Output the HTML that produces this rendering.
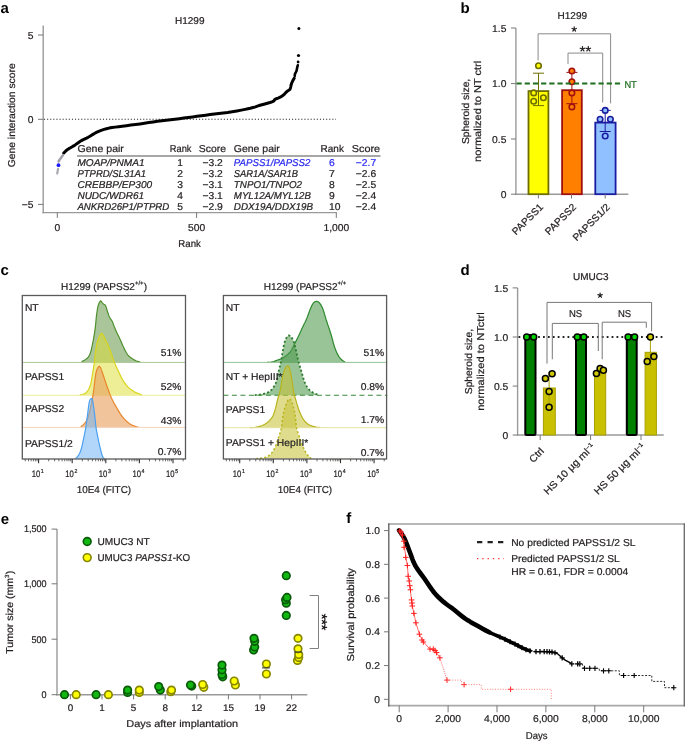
<!DOCTYPE html>
<html><head><meta charset="utf-8"><style>
html,body{margin:0;padding:0;background:#fff;}
body{width:685px;height:741px;overflow:hidden;}
svg{display:block;font-family:"Liberation Sans", sans-serif;text-rendering:geometricPrecision;will-change:transform;}
svg{fill:#231f20;}
</style></head><body>
<svg width="685" height="741" viewBox="0 0 685 741">
<text transform="translate(0.5,12.6)" font-size="15" fill="#000" font-weight="bold">a</text>
<text transform="translate(460.5,12.8)" font-size="15" fill="#000" font-weight="bold">b</text>
<text transform="translate(0.5,275)" font-size="15" fill="#000" font-weight="bold">c</text>
<text transform="translate(460.5,275.1)" font-size="15" fill="#000" font-weight="bold">d</text>
<text transform="translate(0.8,523.6)" font-size="15" fill="#000" font-weight="bold">e</text>
<text transform="translate(346.2,523)" font-size="15" fill="#000" font-weight="bold">f</text>
<text transform="translate(189.7,24) scale(1.03,1)" font-size="10.0" text-anchor="middle" stroke="#231f20" stroke-width="0.22" textLength="28.64" lengthAdjust="spacingAndGlyphs">H1299</text>
<line x1="43.2" y1="25.4" x2="43.2" y2="213.2" stroke="#9a9a9a" stroke-width="1.4" />
<line x1="42.5" y1="212.6" x2="336.8" y2="212.6" stroke="#9a9a9a" stroke-width="1.4" />
<line x1="38" y1="35" x2="43.2" y2="35" stroke="#777" stroke-width="1" />
<text transform="translate(33.6,38.6) scale(1.03,1)" font-size="10.0" text-anchor="end" stroke="#231f20" stroke-width="0.22">5</text>
<line x1="38" y1="119.3" x2="43.2" y2="119.3" stroke="#777" stroke-width="1" />
<text transform="translate(33.6,122.89999999999999) scale(1.03,1)" font-size="10.0" text-anchor="end" stroke="#231f20" stroke-width="0.22">0</text>
<line x1="38" y1="204.4" x2="43.2" y2="204.4" stroke="#777" stroke-width="1" />
<text transform="translate(33.6,208.0) scale(1.03,1)" font-size="10.0" text-anchor="end" stroke="#231f20" stroke-width="0.22">−5</text>
<line x1="57.3" y1="212.6" x2="57.3" y2="217.9" stroke="#777" stroke-width="1" />
<text transform="translate(57.3,231) scale(1.03,1)" font-size="10.0" text-anchor="middle" stroke="#231f20" stroke-width="0.22">0</text>
<line x1="196.6" y1="212.6" x2="196.6" y2="217.9" stroke="#777" stroke-width="1" />
<text transform="translate(196.6,231) scale(1.03,1)" font-size="10.0" text-anchor="middle" stroke="#231f20" stroke-width="0.22">500</text>
<line x1="336.3" y1="212.6" x2="336.3" y2="217.9" stroke="#777" stroke-width="1" />
<text transform="translate(336.3,231) scale(1.03,1)" font-size="10.0" text-anchor="middle" stroke="#231f20" stroke-width="0.22">1,000</text>
<text transform="translate(189.6,246.9) scale(1.03,1)" font-size="10.0" text-anchor="middle" stroke="#231f20" stroke-width="0.22" textLength="21.84" lengthAdjust="spacingAndGlyphs">Rank</text>
<text transform="translate(14.8,115.3) rotate(-90) scale(1.03,1)" font-size="10.0" text-anchor="middle" stroke="#231f20" stroke-width="0.22" textLength="100.97" lengthAdjust="spacingAndGlyphs">Gene interaction score</text>
<line x1="44" y1="119.3" x2="336" y2="119.3" stroke="#222" stroke-width="1.1" stroke-dasharray="1.1 2"/>
<polyline points="63.80,153.10 64.32,152.52 65.04,151.69 65.97,150.74 67.10,149.80 68.47,148.90 70.06,147.97 71.80,146.99 73.60,145.90 75.51,144.63 77.54,143.21 79.58,141.82 81.50,140.60 83.27,139.63 84.96,138.82 86.57,138.07 88.10,137.30 89.49,136.50 90.76,135.70 92.02,134.90 93.40,134.10 94.88,133.27 96.41,132.42 98.06,131.59 99.90,130.80 101.92,130.06 104.08,129.36 106.46,128.70 109.10,128.10 112.01,127.58 115.17,127.12 118.59,126.68 122.30,126.20 126.41,125.66 130.88,125.09 135.48,124.51 140.00,123.90 144.39,123.26 148.76,122.59 153.13,121.92 157.50,121.30 161.87,120.74 166.24,120.23 170.62,119.73 175.00,119.20 179.40,118.64 183.80,118.06 188.20,117.48 192.60,116.90 196.98,116.32 201.36,115.74 205.73,115.16 210.10,114.60 214.47,114.08 218.85,113.60 223.22,113.09 227.60,112.50 232.18,111.77 236.89,110.95 241.34,110.13 245.10,109.40 247.97,108.80 250.21,108.28 252.09,107.79 253.90,107.30 255.46,106.83 256.71,106.40 258.08,105.92 260.00,105.30 262.93,104.46 266.53,103.47 270.01,102.47 272.60,101.60 273.88,100.91 274.33,100.32 274.52,99.79 275.00,99.30 275.91,98.87 276.95,98.51 278.04,98.14 279.10,97.70 280.10,97.20 281.10,96.66 282.10,96.04 283.10,95.30 284.15,94.35 285.23,93.22 286.26,92.12 287.20,91.20 288.03,90.61 288.78,90.23 289.44,89.83 290.00,89.20 290.41,88.22 290.70,87.02 290.94,85.79 291.20,84.70 291.49,83.81 291.76,83.03 292.06,82.28 292.40,81.50 292.85,80.60 293.38,79.65 293.86,78.80 294.20,78.20" fill="none" stroke="#000" stroke-width="3.0" stroke-linecap="round" stroke-linejoin="round"/>
<polyline points="294.70,76.00 294.90,74.20 296.50,71.00 297.30,66.90 297.80,65.30" fill="none" stroke="#000" stroke-width="2.6" stroke-linecap="round" stroke-linejoin="round"/>
<circle cx="298.1" cy="62" r="1.4" fill="#000" stroke="none" stroke-width="0"/>
<circle cx="298.5" cy="55.5" r="1.6" fill="#000" stroke="none" stroke-width="0"/>
<circle cx="298.9" cy="28.6" r="1.5" fill="#000" stroke="none" stroke-width="0"/>
<polyline points="63.10,155.10 60.50,158.50 58.50,161.50" fill="none" stroke="#a0a0a8" stroke-width="2.4" stroke-linecap="round"/>
<polyline points="58.10,168.90 57.20,173.50" fill="none" stroke="#a8a8b0" stroke-width="2.2" stroke-linecap="round"/>
<circle cx="58.5" cy="165.2" r="1.9" fill="#1a1aff" stroke="none" stroke-width="0"/>
<line x1="77" y1="156" x2="380.5" y2="156" stroke="#8a8a8a" stroke-width="1.6" />
<text transform="translate(77.4,152.4) scale(1.03,1)" font-size="10.0" stroke="#231f20" stroke-width="0.22" textLength="45.15" lengthAdjust="spacingAndGlyphs">Gene pair</text>
<text transform="translate(169.8,152.4) scale(1.03,1)" font-size="10.0" stroke="#231f20" stroke-width="0.22" textLength="21.07" lengthAdjust="spacingAndGlyphs">Rank</text>
<text transform="translate(198.8,152.4) scale(1.03,1)" font-size="10.0" stroke="#231f20" stroke-width="0.22" textLength="26.50" lengthAdjust="spacingAndGlyphs">Score</text>
<text transform="translate(233.8,152.4) scale(1.03,1)" font-size="10.0" stroke="#231f20" stroke-width="0.22" textLength="44.66" lengthAdjust="spacingAndGlyphs">Gene pair</text>
<text transform="translate(320.6,152.4) scale(1.03,1)" font-size="10.0" stroke="#231f20" stroke-width="0.22" textLength="22.62" lengthAdjust="spacingAndGlyphs">Rank</text>
<text transform="translate(351.8,152.4) scale(1.03,1)" font-size="10.0" stroke="#231f20" stroke-width="0.22" textLength="27.48" lengthAdjust="spacingAndGlyphs">Score</text>
<text transform="translate(77.4,165.6) scale(1.03,1)" font-size="10.0" stroke="#231f20" stroke-width="0.22" font-style="italic" textLength="65.24" lengthAdjust="spacingAndGlyphs">MOAP/PNMA1</text>
<text transform="translate(180.2,165.6) scale(1.03,1)" font-size="10.0" text-anchor="middle" stroke="#231f20" stroke-width="0.22">1</text>
<text transform="translate(222.8,165.6) scale(1.03,1)" font-size="10.0" text-anchor="end" stroke="#231f20" stroke-width="0.22">−3.2</text>
<text transform="translate(233.8,165.6) scale(1.03,1)" font-size="10.0" fill="#2b2bf0" stroke="#2b2bf0" stroke-width="0.22" font-style="italic" textLength="74.37" lengthAdjust="spacingAndGlyphs">PAPSS1/PAPSS2</text>
<text transform="translate(329,165.6) scale(1.03,1)" font-size="10.0" fill="#2b2bf0" stroke="#2b2bf0" stroke-width="0.22">6</text>
<text transform="translate(376.2,165.6) scale(1.03,1)" font-size="10.0" text-anchor="end" fill="#2b2bf0" stroke="#2b2bf0" stroke-width="0.22">−2.7</text>
<text transform="translate(77.4,176.65) scale(1.03,1)" font-size="10.0" stroke="#231f20" stroke-width="0.22" font-style="italic" textLength="66.70" lengthAdjust="spacingAndGlyphs">PTPRD/SL31A1</text>
<text transform="translate(180.2,176.65) scale(1.03,1)" font-size="10.0" text-anchor="middle" stroke="#231f20" stroke-width="0.22">2</text>
<text transform="translate(222.8,176.65) scale(1.03,1)" font-size="10.0" text-anchor="end" stroke="#231f20" stroke-width="0.22">−3.2</text>
<text transform="translate(233.8,176.65) scale(1.03,1)" font-size="10.0" stroke="#231f20" stroke-width="0.22" font-style="italic" textLength="62.33" lengthAdjust="spacingAndGlyphs">SAR1A/SAR1B</text>
<text transform="translate(329,176.65) scale(1.03,1)" font-size="10.0" stroke="#231f20" stroke-width="0.22">7</text>
<text transform="translate(376.2,176.65) scale(1.03,1)" font-size="10.0" text-anchor="end" stroke="#231f20" stroke-width="0.22">−2.6</text>
<text transform="translate(77.4,187.7) scale(1.03,1)" font-size="10.0" stroke="#231f20" stroke-width="0.22" font-style="italic" textLength="72.62" lengthAdjust="spacingAndGlyphs">CREBBP/EP300</text>
<text transform="translate(180.2,187.7) scale(1.03,1)" font-size="10.0" text-anchor="middle" stroke="#231f20" stroke-width="0.22">3</text>
<text transform="translate(222.8,187.7) scale(1.03,1)" font-size="10.0" text-anchor="end" stroke="#231f20" stroke-width="0.22">−3.1</text>
<text transform="translate(233.8,187.7) scale(1.03,1)" font-size="10.0" stroke="#231f20" stroke-width="0.22" font-style="italic" textLength="66.31" lengthAdjust="spacingAndGlyphs">TNPO1/TNPO2</text>
<text transform="translate(329,187.7) scale(1.03,1)" font-size="10.0" stroke="#231f20" stroke-width="0.22">8</text>
<text transform="translate(376.2,187.7) scale(1.03,1)" font-size="10.0" text-anchor="end" stroke="#231f20" stroke-width="0.22">−2.5</text>
<text transform="translate(77.4,198.75) scale(1.03,1)" font-size="10.0" stroke="#231f20" stroke-width="0.22" font-style="italic" textLength="64.85" lengthAdjust="spacingAndGlyphs">NUDC/WDR61</text>
<text transform="translate(180.2,198.75) scale(1.03,1)" font-size="10.0" text-anchor="middle" stroke="#231f20" stroke-width="0.22">4</text>
<text transform="translate(222.8,198.75) scale(1.03,1)" font-size="10.0" text-anchor="end" stroke="#231f20" stroke-width="0.22">−3.1</text>
<text transform="translate(233.8,198.75) scale(1.03,1)" font-size="10.0" stroke="#231f20" stroke-width="0.22" font-style="italic" textLength="74.85" lengthAdjust="spacingAndGlyphs">MYL12A/MYL12B</text>
<text transform="translate(329,198.75) scale(1.03,1)" font-size="10.0" stroke="#231f20" stroke-width="0.22">9</text>
<text transform="translate(376.2,198.75) scale(1.03,1)" font-size="10.0" text-anchor="end" stroke="#231f20" stroke-width="0.22">−2.4</text>
<text transform="translate(77.4,209.8) scale(1.03,1)" font-size="10.0" stroke="#231f20" stroke-width="0.22" font-style="italic" textLength="89.22" lengthAdjust="spacingAndGlyphs">ANKRD26P1/PTPRD</text>
<text transform="translate(180.2,209.8) scale(1.03,1)" font-size="10.0" text-anchor="middle" stroke="#231f20" stroke-width="0.22">5</text>
<text transform="translate(222.8,209.8) scale(1.03,1)" font-size="10.0" text-anchor="end" stroke="#231f20" stroke-width="0.22">−2.9</text>
<text transform="translate(233.8,209.8) scale(1.03,1)" font-size="10.0" stroke="#231f20" stroke-width="0.22" font-style="italic" textLength="76.99" lengthAdjust="spacingAndGlyphs">DDX19A/DDX19B</text>
<text transform="translate(329,209.8) scale(1.03,1)" font-size="10.0" stroke="#231f20" stroke-width="0.22">10</text>
<text transform="translate(376.2,209.8) scale(1.03,1)" font-size="10.0" text-anchor="end" stroke="#231f20" stroke-width="0.22">−2.4</text>
<text transform="translate(572.3,18.7) scale(1.03,1)" font-size="10.0" text-anchor="middle" stroke="#231f20" stroke-width="0.22" textLength="28.64" lengthAdjust="spacingAndGlyphs">H1299</text>
<line x1="515.9" y1="28" x2="515.9" y2="194.9" stroke="#9a9a9a" stroke-width="1.4" />
<line x1="515.2" y1="194.2" x2="628.3" y2="194.2" stroke="#9a9a9a" stroke-width="1.4" />
<line x1="511" y1="28" x2="515.9" y2="28" stroke="#777" stroke-width="1" />
<text transform="translate(506.4,31.6) scale(1.03,1)" font-size="10.0" text-anchor="end" stroke="#231f20" stroke-width="0.22">1.5</text>
<line x1="511" y1="83.6" x2="515.9" y2="83.6" stroke="#777" stroke-width="1" />
<text transform="translate(506.4,87.19999999999999) scale(1.03,1)" font-size="10.0" text-anchor="end" stroke="#231f20" stroke-width="0.22">1.0</text>
<line x1="511" y1="139" x2="515.9" y2="139" stroke="#777" stroke-width="1" />
<text transform="translate(506.4,142.6) scale(1.03,1)" font-size="10.0" text-anchor="end" stroke="#231f20" stroke-width="0.22">0.5</text>
<line x1="511" y1="194.2" x2="515.9" y2="194.2" stroke="#777" stroke-width="1" />
<text transform="translate(506.4,197.79999999999998) scale(1.03,1)" font-size="10.0" text-anchor="end" stroke="#231f20" stroke-width="0.22">0</text>
<text transform="translate(469,111.4) rotate(-90) scale(1.03,1)" font-size="10.0" text-anchor="middle" stroke="#231f20" stroke-width="0.22">Spheroid size,</text>
<text transform="translate(481.4,111.4) rotate(-90) scale(1.03,1)" font-size="10.0" text-anchor="middle" stroke="#231f20" stroke-width="0.22" textLength="98.06" lengthAdjust="spacingAndGlyphs">normalized to NT ctrl</text>
<rect x="528.5" y="91.10000000000001" width="19.89999999999993" height="103.09999999999998" fill="#ffff00" stroke="#6e6e00" stroke-width="1.8"/>
<rect x="562.1" y="90.2" width="19.7" height="103.99999999999999" fill="#ff8000" stroke="#a01010" stroke-width="1.8"/>
<rect x="595.3" y="122.60000000000001" width="20.300000000000022" height="71.59999999999998" fill="#90c0ff" stroke="#1c1ca0" stroke-width="1.8"/>
<line x1="538.5" y1="73.2" x2="538.5" y2="105.6" stroke="#6e6e00" stroke-width="1" />
<line x1="533.0" y1="73.2" x2="544.0" y2="73.2" stroke="#6e6e00" stroke-width="1" />
<line x1="533.0" y1="105.6" x2="544.0" y2="105.6" stroke="#6e6e00" stroke-width="1" />
<line x1="571.9" y1="72.4" x2="571.9" y2="103.7" stroke="#a01010" stroke-width="1" />
<line x1="566.4" y1="72.4" x2="577.4" y2="72.4" stroke="#a01010" stroke-width="1" />
<line x1="566.4" y1="103.7" x2="577.4" y2="103.7" stroke="#a01010" stroke-width="1" />
<line x1="605.2" y1="110.4" x2="605.2" y2="131.5" stroke="#1c1ca0" stroke-width="1" />
<line x1="599.7" y1="110.4" x2="610.7" y2="110.4" stroke="#1c1ca0" stroke-width="1" />
<line x1="599.7" y1="131.5" x2="610.7" y2="131.5" stroke="#1c1ca0" stroke-width="1" />
<circle cx="538.5" cy="65.7" r="2.75" fill="#ffff00" stroke="#6e6e00" stroke-width="1.6"/>
<circle cx="533.7" cy="92.9" r="2.75" fill="#ffff00" stroke="#6e6e00" stroke-width="1.6"/>
<circle cx="543.4" cy="97.8" r="2.75" fill="#ffff00" stroke="#6e6e00" stroke-width="1.6"/>
<circle cx="533.7" cy="101.3" r="2.75" fill="#ffff00" stroke="#6e6e00" stroke-width="1.6"/>
<circle cx="571.9" cy="71" r="2.75" fill="#ff8000" stroke="#a01010" stroke-width="1.6"/>
<circle cx="571.9" cy="81.8" r="2.75" fill="#ff8000" stroke="#a01010" stroke-width="1.6"/>
<circle cx="571.9" cy="92.9" r="2.75" fill="#ff8000" stroke="#a01010" stroke-width="1.6"/>
<circle cx="571.9" cy="106.9" r="2.75" fill="#ff8000" stroke="#a01010" stroke-width="1.6"/>
<circle cx="605.2" cy="110.4" r="2.75" fill="#90c0ff" stroke="#1c1ca0" stroke-width="1.6"/>
<circle cx="600.1" cy="119.2" r="2.75" fill="#90c0ff" stroke="#1c1ca0" stroke-width="1.6"/>
<circle cx="610.4" cy="119.2" r="2.75" fill="#90c0ff" stroke="#1c1ca0" stroke-width="1.6"/>
<circle cx="605.2" cy="136" r="2.75" fill="#90c0ff" stroke="#1c1ca0" stroke-width="1.6"/>
<polyline points="538.10,60.40 538.10,33.80 610.60,33.80 610.60,103.40" fill="none" stroke="#8a8a8a" stroke-width="1" />
<polyline points="568.00,64.00 568.00,53.10 602.70,53.10 602.70,102.50" fill="none" stroke="#8a8a8a" stroke-width="1" />
<path d="M574.20,29.20L574.20,26.90M574.20,29.20L576.39,28.49M574.20,29.20L575.55,31.06M574.20,29.20L572.85,31.06M574.20,29.20L572.01,28.49" stroke="#231f20" stroke-width="1.2" stroke-linecap="round" fill="none"/>
<path d="M582.50,49.00L582.50,46.60M582.50,49.00L584.78,48.26M582.50,49.00L583.91,50.94M582.50,49.00L581.09,50.94M582.50,49.00L580.22,48.26" stroke="#231f20" stroke-width="1.25" stroke-linecap="round" fill="none"/>
<path d="M588.30,49.00L588.30,46.60M588.30,49.00L590.58,48.26M588.30,49.00L589.71,50.94M588.30,49.00L586.89,50.94M588.30,49.00L586.02,48.26" stroke="#231f20" stroke-width="1.25" stroke-linecap="round" fill="none"/>
<line x1="516.5" y1="83.6" x2="620.6" y2="83.6" stroke="#1e6e1e" stroke-width="2" stroke-dasharray="5.2 3"/>
<text transform="translate(624.4,87.6) scale(1.03,1)" font-size="10.0" fill="#1e6e1e" stroke="#1e6e1e" stroke-width="0.22" textLength="12.04" lengthAdjust="spacingAndGlyphs">NT</text>
<line x1="538.4" y1="194.2" x2="538.4" y2="198.5" stroke="#777" stroke-width="1" />
<text transform="translate(543.8,207.7) rotate(-45) scale(1.03,1)" font-size="10.0" text-anchor="end" stroke="#231f20" stroke-width="0.22">PAPSS1</text>
<line x1="571.5" y1="194.2" x2="571.5" y2="198.5" stroke="#777" stroke-width="1" />
<text transform="translate(576.9,207.7) rotate(-45) scale(1.03,1)" font-size="10.0" text-anchor="end" stroke="#231f20" stroke-width="0.22">PAPSS2</text>
<line x1="605.2" y1="194.2" x2="605.2" y2="198.5" stroke="#777" stroke-width="1" />
<text transform="translate(610.6,207.7) rotate(-45) scale(1.03,1)" font-size="10.0" text-anchor="end" stroke="#231f20" stroke-width="0.22">PAPSS1/2</text>
<defs><clipPath id="cL"><rect x="22.3" y="295.5" width="163.2" height="163.5"/></clipPath><clipPath id="cR"><rect x="223.4" y="295.5" width="164" height="163.5"/></clipPath></defs>
<g clip-path="url(#cL)">
<path d="M22.3,362.4 L22.30,362.40 L37.99,362.44 L59.64,362.47 L76.00,362.40 L81.60,362.22 L81.90,361.93 L82.10,361.40 L83.95,360.60 L85.69,359.56 L87.20,358.30 L88.42,356.86 L89.42,355.20 L90.30,353.20 L91.06,350.69 L91.70,347.84 L92.30,345.00 L92.87,342.37 L93.39,339.75 L93.90,336.90 L94.43,333.66 L94.94,330.19 L95.40,326.70 L95.75,323.27 L96.04,319.83 L96.40,316.40 L96.87,312.79 L97.41,309.18 L98.00,306.20 L98.67,304.10 L99.39,302.62 L100.00,301.60 L100.37,301.01 L100.62,300.89 L101.00,301.10 L101.60,301.76 L102.33,302.76 L103.10,303.70 L103.92,304.24 L104.78,304.71 L105.60,305.70 L106.33,307.61 L107.02,310.03 L107.70,312.30 L108.35,314.18 L108.99,315.91 L109.70,317.50 L110.54,318.88 L111.46,320.12 L112.30,321.50 L112.99,323.11 L113.61,324.86 L114.30,326.70 L115.11,328.67 L115.98,330.73 L116.90,332.80 L117.87,334.79 L118.88,336.79 L119.90,338.90 L120.93,341.26 L121.96,343.74 L123.00,346.10 L124.04,348.29 L125.07,350.36 L126.10,352.20 L127.03,353.73 L127.95,355.04 L129.10,356.30 L130.64,357.60 L132.41,358.84 L134.20,359.90 L135.87,360.74 L137.56,361.40 L139.40,361.90 L140.28,362.20 L141.31,362.33 L146.00,362.40 L158.19,362.44 L174.04,362.42 L185.50,362.40 L185.5,362.4 Z" fill="#5c8f3e" stroke="none" stroke-width="0" fill-opacity="0.52"/>
<path d="M81.60,362.22 L81.90,361.93 L82.10,361.40 L83.95,360.60 L85.69,359.56 L87.20,358.30 L88.42,356.86 L89.42,355.20 L90.30,353.20 L91.06,350.69 L91.70,347.84 L92.30,345.00 L92.87,342.37 L93.39,339.75 L93.90,336.90 L94.43,333.66 L94.94,330.19 L95.40,326.70 L95.75,323.27 L96.04,319.83 L96.40,316.40 L96.87,312.79 L97.41,309.18 L98.00,306.20 L98.67,304.10 L99.39,302.62 L100.00,301.60 L100.37,301.01 L100.62,300.89 L101.00,301.10 L101.60,301.76 L102.33,302.76 L103.10,303.70 L103.92,304.24 L104.78,304.71 L105.60,305.70 L106.33,307.61 L107.02,310.03 L107.70,312.30 L108.35,314.18 L108.99,315.91 L109.70,317.50 L110.54,318.88 L111.46,320.12 L112.30,321.50 L112.99,323.11 L113.61,324.86 L114.30,326.70 L115.11,328.67 L115.98,330.73 L116.90,332.80 L117.87,334.79 L118.88,336.79 L119.90,338.90 L120.93,341.26 L121.96,343.74 L123.00,346.10 L124.04,348.29 L125.07,350.36 L126.10,352.20 L127.03,353.73 L127.95,355.04 L129.10,356.30 L130.64,357.60 L132.41,358.84 L134.20,359.90 L135.87,360.74 L137.56,361.40 L139.40,361.90 L140.28,362.20" fill="none" stroke="#4e8f2e" stroke-width="1.2" stroke-linejoin="round"/>
<line x1="22.3" y1="362.4" x2="185.5" y2="362.4" stroke="#a9c79a" stroke-width="1.0" />
<path d="M22.3,395.3 L22.30,395.30 L38.06,395.31 L59.79,395.33 L76.00,395.30 L80.97,395.26 L80.42,395.18 L80.10,394.90 L82.06,394.49 L84.24,393.87 L86.20,392.70 L87.79,390.78 L89.16,388.31 L90.30,385.50 L91.12,382.43 L91.70,379.03 L92.30,375.30 L93.01,371.15 L93.74,366.67 L94.40,362.20 L94.92,357.69 L95.38,353.17 L95.90,349.10 L96.50,345.68 L97.17,342.71 L98.00,340.00 L99.04,337.09 L100.24,334.45 L101.50,333.30 L102.82,334.45 L104.21,337.09 L105.60,340.00 L106.95,342.71 L108.30,345.68 L109.70,349.10 L111.20,353.28 L112.75,357.91 L114.30,362.20 L115.85,365.86 L117.40,369.19 L118.90,372.30 L120.27,375.20 L121.58,377.88 L123.00,380.40 L124.59,382.81 L126.29,385.07 L128.10,387.10 L130.02,388.85 L132.05,390.36 L134.20,391.70 L136.61,392.91 L139.15,393.94 L141.40,394.70 L141.83,395.10 L141.98,395.23 L146.00,395.30 L158.04,395.34 L173.97,395.32 L185.50,395.30 L185.5,395.3 Z" fill="#dede30" stroke="none" stroke-width="0" fill-opacity="0.5"/>
<path d="M80.42,395.18 L80.10,394.90 L82.06,394.49 L84.24,393.87 L86.20,392.70 L87.79,390.78 L89.16,388.31 L90.30,385.50 L91.12,382.43 L91.70,379.03 L92.30,375.30 L93.01,371.15 L93.74,366.67 L94.40,362.20 L94.92,357.69 L95.38,353.17 L95.90,349.10 L96.50,345.68 L97.17,342.71 L98.00,340.00 L99.04,337.09 L100.24,334.45 L101.50,333.30 L102.82,334.45 L104.21,337.09 L105.60,340.00 L106.95,342.71 L108.30,345.68 L109.70,349.10 L111.20,353.28 L112.75,357.91 L114.30,362.20 L115.85,365.86 L117.40,369.19 L118.90,372.30 L120.27,375.20 L121.58,377.88 L123.00,380.40 L124.59,382.81 L126.29,385.07 L128.10,387.10 L130.02,388.85 L132.05,390.36 L134.20,391.70 L136.61,392.91 L139.15,393.94 L141.40,394.70 L141.83,395.10" fill="none" stroke="#d8d41c" stroke-width="1.2" stroke-linejoin="round"/>
<line x1="22.3" y1="395.3" x2="185.5" y2="395.3" stroke="#eeee98" stroke-width="1.0" />
<path d="M22.3,427.4 L22.30,427.40 L38.02,427.44 L59.71,427.47 L76.00,427.40 L81.30,427.29 L81.20,427.07 L81.10,426.40 L82.87,425.12 L84.65,423.38 L86.20,421.30 L87.40,418.94 L88.39,416.24 L89.30,413.10 L90.21,409.18 L91.06,404.82 L91.80,400.90 L92.40,398.02 L92.91,395.59 L93.40,392.70 L93.91,388.79 L94.40,384.42 L94.90,380.40 L95.34,376.94 L95.78,373.83 L96.40,371.20 L97.31,368.81 L98.41,366.89 L99.50,366.30 L100.50,367.56 L101.49,370.14 L102.60,373.30 L103.86,376.94 L105.22,381.16 L106.70,385.50 L108.33,390.00 L110.06,394.63 L111.80,398.80 L113.50,402.21 L115.20,405.16 L116.90,408.00 L118.53,410.84 L120.15,413.58 L122.00,416.20 L124.18,418.81 L126.58,421.30 L129.10,423.40 L131.73,424.99 L134.49,426.17 L137.30,427.00 L139.02,427.39 L140.80,427.41 L146.00,427.40 L158.35,427.43 L174.12,427.41 L185.50,427.40 L185.5,427.4 Z" fill="#e8a060" stroke="none" stroke-width="0" fill-opacity="0.62"/>
<path d="M81.30,427.29 L81.20,427.07 L81.10,426.40 L82.87,425.12 L84.65,423.38 L86.20,421.30 L87.40,418.94 L88.39,416.24 L89.30,413.10 L90.21,409.18 L91.06,404.82 L91.80,400.90 L92.40,398.02 L92.91,395.59 L93.40,392.70 L93.91,388.79 L94.40,384.42 L94.90,380.40 L95.34,376.94 L95.78,373.83 L96.40,371.20 L97.31,368.81 L98.41,366.89 L99.50,366.30 L100.50,367.56 L101.49,370.14 L102.60,373.30 L103.86,376.94 L105.22,381.16 L106.70,385.50 L108.33,390.00 L110.06,394.63 L111.80,398.80 L113.50,402.21 L115.20,405.16 L116.90,408.00 L118.53,410.84 L120.15,413.58 L122.00,416.20 L124.18,418.81 L126.58,421.30 L129.10,423.40 L131.73,424.99 L134.49,426.17 L137.30,427.00 L139.02,427.39" fill="none" stroke="#e8862a" stroke-width="1.2" stroke-linejoin="round"/>
<line x1="22.3" y1="427.4" x2="185.5" y2="427.4" stroke="#f6d4bc" stroke-width="1.0" />
<path d="M22.3,459 L22.30,459.00 L36.89,459.03 L56.99,459.05 L72.00,459.00 L76.70,458.92 L76.29,458.77 L75.80,458.30 L76.89,457.41 L77.88,456.20 L78.80,454.80 L79.64,453.23 L80.40,451.46 L81.10,449.50 L81.71,447.36 L82.25,445.02 L82.80,442.50 L83.41,439.64 L84.04,436.60 L84.60,433.80 L85.03,431.69 L85.39,429.81 L85.80,427.30 L86.33,423.66 L86.91,419.37 L87.50,415.00 L88.09,410.33 L88.68,405.57 L89.30,401.90 L89.98,399.88 L90.68,398.95 L91.30,398.60 L91.77,398.49 L92.16,398.96 L92.60,400.50 L93.14,403.48 L93.72,407.53 L94.30,412.00 L94.89,417.14 L95.47,422.71 L96.00,427.30 L96.42,430.04 L96.78,431.80 L97.20,433.80 L97.73,436.58 L98.31,439.60 L98.90,442.50 L99.50,445.18 L100.10,447.73 L100.70,450.10 L101.26,452.30 L101.81,454.32 L102.40,456.00 L103.06,457.29 L103.76,458.25 L104.50,458.90 L102.49,459.14 L100.52,459.08 L107.00,459.00 L130.44,459.01 L162.33,459.00 L185.50,459.00 L185.5,459 Z" fill="#72b4f4" stroke="none" stroke-width="0" fill-opacity="0.55"/>
<path d="M76.29,458.77 L75.80,458.30 L76.89,457.41 L77.88,456.20 L78.80,454.80 L79.64,453.23 L80.40,451.46 L81.10,449.50 L81.71,447.36 L82.25,445.02 L82.80,442.50 L83.41,439.64 L84.04,436.60 L84.60,433.80 L85.03,431.69 L85.39,429.81 L85.80,427.30 L86.33,423.66 L86.91,419.37 L87.50,415.00 L88.09,410.33 L88.68,405.57 L89.30,401.90 L89.98,399.88 L90.68,398.95 L91.30,398.60 L91.77,398.49 L92.16,398.96 L92.60,400.50 L93.14,403.48 L93.72,407.53 L94.30,412.00 L94.89,417.14 L95.47,422.71 L96.00,427.30 L96.42,430.04 L96.78,431.80 L97.20,433.80 L97.73,436.58 L98.31,439.60 L98.90,442.50 L99.50,445.18 L100.10,447.73 L100.70,450.10 L101.26,452.30 L101.81,454.32 L102.40,456.00 L103.06,457.29 L103.76,458.25 L104.50,458.90" fill="none" stroke="#4aa0f0" stroke-width="1.2" stroke-linejoin="round"/>
</g>
<g clip-path="url(#cR)">
<path d="M223.4,362.4 L223.40,362.40 L232.17,362.41 L244.44,362.43 L255.00,362.40 L261.90,362.35 L267.07,362.25 L271.10,362.00 L273.80,361.52 L275.35,360.88 L276.90,360.20 L278.78,359.63 L280.66,359.01 L282.70,358.00 L285.13,356.41 L287.73,354.43 L290.00,352.20 L291.68,349.73 L293.04,347.01 L294.40,344.20 L295.87,341.35 L297.33,338.41 L298.80,335.40 L300.32,332.15 L301.84,328.82 L303.20,325.90 L304.25,323.83 L305.14,322.17 L306.10,320.10 L307.27,317.10 L308.52,313.69 L309.70,310.60 L310.75,308.03 L311.73,305.79 L312.70,304.00 L313.65,302.73 L314.59,301.91 L315.60,301.50 L316.74,301.40 L317.97,301.70 L319.20,302.60 L320.43,304.17 L321.67,306.35 L322.90,309.10 L324.08,312.56 L325.24,316.60 L326.50,320.80 L327.93,325.09 L329.46,329.55 L330.90,334.00 L332.16,338.51 L333.35,343.00 L334.60,347.10 L335.96,350.71 L337.39,353.91 L338.90,356.60 L340.51,358.69 L342.21,360.26 L344.00,361.40 L344.74,362.05 L345.56,362.28 L349.90,362.40 L361.45,362.47 L376.51,362.44 L387.40,362.40 L387.4,362.4 Z" fill="#4d9a4d" stroke="none" stroke-width="0" fill-opacity="0.58"/>
<path d="M267.07,362.25 L271.10,362.00 L273.80,361.52 L275.35,360.88 L276.90,360.20 L278.78,359.63 L280.66,359.01 L282.70,358.00 L285.13,356.41 L287.73,354.43 L290.00,352.20 L291.68,349.73 L293.04,347.01 L294.40,344.20 L295.87,341.35 L297.33,338.41 L298.80,335.40 L300.32,332.15 L301.84,328.82 L303.20,325.90 L304.25,323.83 L305.14,322.17 L306.10,320.10 L307.27,317.10 L308.52,313.69 L309.70,310.60 L310.75,308.03 L311.73,305.79 L312.70,304.00 L313.65,302.73 L314.59,301.91 L315.60,301.50 L316.74,301.40 L317.97,301.70 L319.20,302.60 L320.43,304.17 L321.67,306.35 L322.90,309.10 L324.08,312.56 L325.24,316.60 L326.50,320.80 L327.93,325.09 L329.46,329.55 L330.90,334.00 L332.16,338.51 L333.35,343.00 L334.60,347.10 L335.96,350.71 L337.39,353.91 L338.90,356.60 L340.51,358.69 L342.21,360.26 L344.00,361.40 L344.74,362.05 L345.56,362.28" fill="none" stroke="#2e8a2e" stroke-width="1.2" stroke-linejoin="round"/>
<line x1="223.4" y1="362.4" x2="387.4" y2="362.4" stroke="#98c498" stroke-width="1.0" />
<path d="M223.4,395.2 L223.40,395.20 L230.89,395.23 L241.34,395.26 L250.00,395.20 L254.74,395.07 L257.69,394.85 L260.50,394.40 L263.79,393.77 L266.93,392.91 L269.70,391.50 L272.03,389.33 L274.00,386.61 L275.60,383.60 L276.71,380.31 L277.45,376.74 L278.20,373.10 L279.13,369.42 L280.06,365.68 L280.90,362.00 L281.55,358.44 L282.10,354.96 L282.70,351.50 L283.35,347.92 L284.04,344.37 L284.90,341.30 L286.00,338.63 L287.26,336.44 L288.60,335.40 L290.07,335.89 L291.62,337.52 L293.00,339.80 L294.10,342.77 L295.04,346.39 L295.90,350.00 L296.63,353.30 L297.27,356.60 L298.10,360.20 L299.27,364.39 L300.61,368.88 L301.90,373.10 L302.97,376.90 L303.98,380.43 L305.20,383.60 L306.69,386.40 L308.40,388.84 L310.40,390.90 L312.88,392.58 L315.66,393.89 L318.30,394.80 L318.56,395.21 L318.69,395.23 L325.00,395.20 L343.99,395.23 L369.16,395.21 L387.40,395.20 L387.4,395.2 Z" fill="#4d9a4d" stroke="none" stroke-width="0" fill-opacity="0.58"/>
<path d="M254.74,395.07 L257.69,394.85 L260.50,394.40 L263.79,393.77 L266.93,392.91 L269.70,391.50 L272.03,389.33 L274.00,386.61 L275.60,383.60 L276.71,380.31 L277.45,376.74 L278.20,373.10 L279.13,369.42 L280.06,365.68 L280.90,362.00 L281.55,358.44 L282.10,354.96 L282.70,351.50 L283.35,347.92 L284.04,344.37 L284.90,341.30 L286.00,338.63 L287.26,336.44 L288.60,335.40 L290.07,335.89 L291.62,337.52 L293.00,339.80 L294.10,342.77 L295.04,346.39 L295.90,350.00 L296.63,353.30 L297.27,356.60 L298.10,360.20 L299.27,364.39 L300.61,368.88 L301.90,373.10 L302.97,376.90 L303.98,380.43 L305.20,383.60 L306.69,386.40 L308.40,388.84 L310.40,390.90 L312.88,392.58 L315.66,393.89 L318.30,394.80 L318.56,395.21" fill="none" stroke="#2e7a2e" stroke-width="1.8" stroke-linejoin="round" stroke-dasharray="2 2.2"/>
<line x1="223.4" y1="395.2" x2="387.4" y2="395.2" stroke="#3a8a3a" stroke-width="1.1" stroke-dasharray="5 3.5"/>
<path d="M223.4,427.7 L223.40,427.70 L230.84,427.77 L241.24,427.85 L250.00,427.70 L255.17,427.30 L258.70,426.69 L261.80,425.70 L264.84,424.27 L267.46,422.47 L269.70,420.40 L271.53,418.19 L272.99,415.69 L274.30,412.60 L275.52,408.45 L276.60,403.70 L277.60,399.40 L278.52,396.23 L279.36,393.50 L280.20,390.20 L281.06,385.54 L281.93,380.31 L282.80,375.80 L283.72,372.47 L284.66,369.86 L285.50,367.90 L286.19,366.65 L286.79,366.05 L287.40,365.90 L288.06,366.00 L288.73,366.55 L289.40,367.90 L290.07,370.29 L290.73,373.48 L291.40,377.10 L292.04,381.27 L292.69,385.88 L293.40,390.20 L294.17,393.84 L295.01,397.19 L296.00,400.70 L297.15,404.66 L298.45,408.78 L299.90,412.60 L301.47,416.04 L303.19,419.17 L305.20,421.80 L307.35,423.80 L309.79,425.28 L313.10,426.40 L316.17,427.13 L320.10,427.49 L328.80,427.70 L347.33,427.80 L370.62,427.75 L387.40,427.70 L387.4,427.7 Z" fill="#c8c23c" stroke="none" stroke-width="0" fill-opacity="0.58"/>
<path d="M250.00,427.70 L255.17,427.30 L258.70,426.69 L261.80,425.70 L264.84,424.27 L267.46,422.47 L269.70,420.40 L271.53,418.19 L272.99,415.69 L274.30,412.60 L275.52,408.45 L276.60,403.70 L277.60,399.40 L278.52,396.23 L279.36,393.50 L280.20,390.20 L281.06,385.54 L281.93,380.31 L282.80,375.80 L283.72,372.47 L284.66,369.86 L285.50,367.90 L286.19,366.65 L286.79,366.05 L287.40,365.90 L288.06,366.00 L288.73,366.55 L289.40,367.90 L290.07,370.29 L290.73,373.48 L291.40,377.10 L292.04,381.27 L292.69,385.88 L293.40,390.20 L294.17,393.84 L295.01,397.19 L296.00,400.70 L297.15,404.66 L298.45,408.78 L299.90,412.60 L301.47,416.04 L303.19,419.17 L305.20,421.80 L307.35,423.80 L309.79,425.28 L313.10,426.40 L316.17,427.13 L320.10,427.49" fill="none" stroke="#b8b41c" stroke-width="1.2" stroke-linejoin="round"/>
<line x1="223.4" y1="427.7" x2="387.4" y2="427.7" stroke="#e4e2a0" stroke-width="1.0" />
<path d="M223.4,458.8 L223.40,458.80 L230.99,458.81 L241.53,458.83 L250.00,458.80 L253.97,458.74 L255.86,458.64 L257.90,458.40 L260.97,458.14 L264.18,457.75 L267.10,456.80 L269.57,455.16 L271.75,452.97 L273.70,450.20 L275.40,446.61 L276.87,442.45 L278.20,438.40 L279.46,434.74 L280.59,431.19 L281.50,427.60 L282.03,423.90 L282.34,420.17 L282.80,416.50 L283.55,412.83 L284.46,409.23 L285.50,406.00 L286.73,402.87 L288.10,400.11 L289.40,398.80 L290.57,399.58 L291.67,401.81 L292.70,404.70 L293.67,408.22 L294.56,412.40 L295.30,416.50 L295.72,420.26 L295.99,423.95 L296.50,427.60 L297.40,431.14 L298.54,434.64 L299.90,438.40 L301.53,442.86 L303.37,447.58 L305.20,451.50 L306.84,454.17 L308.47,456.03 L310.40,457.40 L310.57,458.25 L311.03,458.60 L318.30,458.80 L339.36,458.90 L367.22,458.85 L387.40,458.80 L387.4,458.8 Z" fill="#c8c23c" stroke="none" stroke-width="0" fill-opacity="0.58"/>
<path d="M255.86,458.64 L257.90,458.40 L260.97,458.14 L264.18,457.75 L267.10,456.80 L269.57,455.16 L271.75,452.97 L273.70,450.20 L275.40,446.61 L276.87,442.45 L278.20,438.40 L279.46,434.74 L280.59,431.19 L281.50,427.60 L282.03,423.90 L282.34,420.17 L282.80,416.50 L283.55,412.83 L284.46,409.23 L285.50,406.00 L286.73,402.87 L288.10,400.11 L289.40,398.80 L290.57,399.58 L291.67,401.81 L292.70,404.70 L293.67,408.22 L294.56,412.40 L295.30,416.50 L295.72,420.26 L295.99,423.95 L296.50,427.60 L297.40,431.14 L298.54,434.64 L299.90,438.40 L301.53,442.86 L303.37,447.58 L305.20,451.50 L306.84,454.17 L308.47,456.03 L310.40,457.40 L310.57,458.25 L311.03,458.60" fill="none" stroke="#b8b41c" stroke-width="1.5" stroke-linejoin="round" stroke-dasharray="2 2.2"/>
</g>
<rect x="22.3" y="295.5" width="163.2" height="163.5" fill="none" stroke="#5a5a5a" stroke-width="1.3"/>
<line x1="25.229215708619538" y1="459" x2="25.229215708619538" y2="461.3" stroke="#444" stroke-width="0.8" />
<line x1="28.485392145690234" y1="459" x2="28.485392145690234" y2="461.3" stroke="#444" stroke-width="0.8" />
<line x1="31.145882012890425" y1="459" x2="31.145882012890425" y2="461.3" stroke="#444" stroke-width="0.8" />
<line x1="33.39529414447903" y1="459" x2="33.39529414447903" y2="461.3" stroke="#444" stroke-width="0.8" />
<line x1="35.3438235629293" y1="459" x2="35.3438235629293" y2="461.3" stroke="#444" stroke-width="0.8" />
<line x1="37.062548317161315" y1="459" x2="37.062548317161315" y2="461.3" stroke="#444" stroke-width="0.8" />
<line x1="38.6" y1="459" x2="38.6" y2="463.2" stroke="#333" stroke-width="1.1" />
<line x1="48.714607854309776" y1="459" x2="48.714607854309776" y2="461.3" stroke="#444" stroke-width="0.8" />
<line x1="54.63127415858066" y1="459" x2="54.63127415858066" y2="461.3" stroke="#444" stroke-width="0.8" />
<line x1="58.82921570861954" y1="459" x2="58.82921570861954" y2="461.3" stroke="#444" stroke-width="0.8" />
<line x1="62.085392145690236" y1="459" x2="62.085392145690236" y2="461.3" stroke="#444" stroke-width="0.8" />
<line x1="64.74588201289043" y1="459" x2="64.74588201289043" y2="461.3" stroke="#444" stroke-width="0.8" />
<line x1="66.99529414447903" y1="459" x2="66.99529414447903" y2="461.3" stroke="#444" stroke-width="0.8" />
<line x1="68.94382356292931" y1="459" x2="68.94382356292931" y2="461.3" stroke="#444" stroke-width="0.8" />
<line x1="70.66254831716131" y1="459" x2="70.66254831716131" y2="461.3" stroke="#444" stroke-width="0.8" />
<line x1="72.2" y1="459" x2="72.2" y2="463.2" stroke="#333" stroke-width="1.1" />
<line x1="82.31460785430977" y1="459" x2="82.31460785430977" y2="461.3" stroke="#444" stroke-width="0.8" />
<line x1="88.23127415858067" y1="459" x2="88.23127415858067" y2="461.3" stroke="#444" stroke-width="0.8" />
<line x1="92.42921570861955" y1="459" x2="92.42921570861955" y2="461.3" stroke="#444" stroke-width="0.8" />
<line x1="95.68539214569023" y1="459" x2="95.68539214569023" y2="461.3" stroke="#444" stroke-width="0.8" />
<line x1="98.34588201289043" y1="459" x2="98.34588201289043" y2="461.3" stroke="#444" stroke-width="0.8" />
<line x1="100.59529414447903" y1="459" x2="100.59529414447903" y2="461.3" stroke="#444" stroke-width="0.8" />
<line x1="102.5438235629293" y1="459" x2="102.5438235629293" y2="461.3" stroke="#444" stroke-width="0.8" />
<line x1="104.2625483171613" y1="459" x2="104.2625483171613" y2="461.3" stroke="#444" stroke-width="0.8" />
<line x1="105.80000000000001" y1="459" x2="105.80000000000001" y2="463.2" stroke="#333" stroke-width="1.1" />
<line x1="115.91460785430976" y1="459" x2="115.91460785430976" y2="461.3" stroke="#444" stroke-width="0.8" />
<line x1="121.83127415858067" y1="459" x2="121.83127415858067" y2="461.3" stroke="#444" stroke-width="0.8" />
<line x1="126.02921570861955" y1="459" x2="126.02921570861955" y2="461.3" stroke="#444" stroke-width="0.8" />
<line x1="129.28539214569022" y1="459" x2="129.28539214569022" y2="461.3" stroke="#444" stroke-width="0.8" />
<line x1="131.94588201289045" y1="459" x2="131.94588201289045" y2="461.3" stroke="#444" stroke-width="0.8" />
<line x1="134.19529414447905" y1="459" x2="134.19529414447905" y2="461.3" stroke="#444" stroke-width="0.8" />
<line x1="136.14382356292933" y1="459" x2="136.14382356292933" y2="461.3" stroke="#444" stroke-width="0.8" />
<line x1="137.86254831716133" y1="459" x2="137.86254831716133" y2="461.3" stroke="#444" stroke-width="0.8" />
<line x1="139.4" y1="459" x2="139.4" y2="463.2" stroke="#333" stroke-width="1.1" />
<line x1="149.5146078543098" y1="459" x2="149.5146078543098" y2="461.3" stroke="#444" stroke-width="0.8" />
<line x1="155.43127415858066" y1="459" x2="155.43127415858066" y2="461.3" stroke="#444" stroke-width="0.8" />
<line x1="159.62921570861954" y1="459" x2="159.62921570861954" y2="461.3" stroke="#444" stroke-width="0.8" />
<line x1="162.88539214569025" y1="459" x2="162.88539214569025" y2="461.3" stroke="#444" stroke-width="0.8" />
<line x1="165.54588201289044" y1="459" x2="165.54588201289044" y2="461.3" stroke="#444" stroke-width="0.8" />
<line x1="167.79529414447904" y1="459" x2="167.79529414447904" y2="461.3" stroke="#444" stroke-width="0.8" />
<line x1="169.74382356292932" y1="459" x2="169.74382356292932" y2="461.3" stroke="#444" stroke-width="0.8" />
<line x1="171.46254831716132" y1="459" x2="171.46254831716132" y2="461.3" stroke="#444" stroke-width="0.8" />
<line x1="173.0" y1="459" x2="173.0" y2="463.2" stroke="#333" stroke-width="1.1" />
<line x1="183.11460785430978" y1="459" x2="183.11460785430978" y2="461.3" stroke="#444" stroke-width="0.8" />
<text transform="translate(40.2,477) scale(0.82,1)" font-size="9.4" text-anchor="end" stroke="#231f20" stroke-width="0.22">10</text>
<text transform="translate(40.800000000000004,472.6) scale(0.9,1)" font-size="5.8" stroke="#231f20" stroke-width="0.22">1</text>
<text transform="translate(73.8,477) scale(0.82,1)" font-size="9.4" text-anchor="end" stroke="#231f20" stroke-width="0.22">10</text>
<text transform="translate(74.4,472.6) scale(0.9,1)" font-size="5.8" stroke="#231f20" stroke-width="0.22">2</text>
<text transform="translate(107.4,477) scale(0.82,1)" font-size="9.4" text-anchor="end" stroke="#231f20" stroke-width="0.22">10</text>
<text transform="translate(108.00000000000001,472.6) scale(0.9,1)" font-size="5.8" stroke="#231f20" stroke-width="0.22">3</text>
<text transform="translate(141.0,477) scale(0.82,1)" font-size="9.4" text-anchor="end" stroke="#231f20" stroke-width="0.22">10</text>
<text transform="translate(141.6,472.6) scale(0.9,1)" font-size="5.8" stroke="#231f20" stroke-width="0.22">4</text>
<text transform="translate(174.6,477) scale(0.82,1)" font-size="9.4" text-anchor="end" stroke="#231f20" stroke-width="0.22">10</text>
<text transform="translate(175.2,472.6) scale(0.9,1)" font-size="5.8" stroke="#231f20" stroke-width="0.22">5</text>
<text transform="translate(103.9,492.7) scale(1.03,1)" font-size="10.0" text-anchor="middle" stroke="#231f20" stroke-width="0.22" textLength="52.72" lengthAdjust="spacingAndGlyphs">10E4 (FITC)</text>
<rect x="223.4" y="295.5" width="163.20000000000002" height="163.5" fill="none" stroke="#5a5a5a" stroke-width="1.3"/>
<line x1="226.32921570861953" y1="459" x2="226.32921570861953" y2="461.3" stroke="#444" stroke-width="0.8" />
<line x1="229.58539214569024" y1="459" x2="229.58539214569024" y2="461.3" stroke="#444" stroke-width="0.8" />
<line x1="232.24588201289043" y1="459" x2="232.24588201289043" y2="461.3" stroke="#444" stroke-width="0.8" />
<line x1="234.49529414447903" y1="459" x2="234.49529414447903" y2="461.3" stroke="#444" stroke-width="0.8" />
<line x1="236.4438235629293" y1="459" x2="236.4438235629293" y2="461.3" stroke="#444" stroke-width="0.8" />
<line x1="238.1625483171613" y1="459" x2="238.1625483171613" y2="461.3" stroke="#444" stroke-width="0.8" />
<line x1="239.7" y1="459" x2="239.7" y2="463.2" stroke="#333" stroke-width="1.1" />
<line x1="249.81460785430977" y1="459" x2="249.81460785430977" y2="461.3" stroke="#444" stroke-width="0.8" />
<line x1="255.73127415858065" y1="459" x2="255.73127415858065" y2="461.3" stroke="#444" stroke-width="0.8" />
<line x1="259.92921570861955" y1="459" x2="259.92921570861955" y2="461.3" stroke="#444" stroke-width="0.8" />
<line x1="263.18539214569023" y1="459" x2="263.18539214569023" y2="461.3" stroke="#444" stroke-width="0.8" />
<line x1="265.84588201289046" y1="459" x2="265.84588201289046" y2="461.3" stroke="#444" stroke-width="0.8" />
<line x1="268.095294144479" y1="459" x2="268.095294144479" y2="461.3" stroke="#444" stroke-width="0.8" />
<line x1="270.04382356292933" y1="459" x2="270.04382356292933" y2="461.3" stroke="#444" stroke-width="0.8" />
<line x1="271.7625483171613" y1="459" x2="271.7625483171613" y2="461.3" stroke="#444" stroke-width="0.8" />
<line x1="273.3" y1="459" x2="273.3" y2="463.2" stroke="#333" stroke-width="1.1" />
<line x1="283.4146078543098" y1="459" x2="283.4146078543098" y2="461.3" stroke="#444" stroke-width="0.8" />
<line x1="289.33127415858064" y1="459" x2="289.33127415858064" y2="461.3" stroke="#444" stroke-width="0.8" />
<line x1="293.5292157086195" y1="459" x2="293.5292157086195" y2="461.3" stroke="#444" stroke-width="0.8" />
<line x1="296.78539214569025" y1="459" x2="296.78539214569025" y2="461.3" stroke="#444" stroke-width="0.8" />
<line x1="299.4458820128904" y1="459" x2="299.4458820128904" y2="461.3" stroke="#444" stroke-width="0.8" />
<line x1="301.695294144479" y1="459" x2="301.695294144479" y2="461.3" stroke="#444" stroke-width="0.8" />
<line x1="303.6438235629293" y1="459" x2="303.6438235629293" y2="461.3" stroke="#444" stroke-width="0.8" />
<line x1="305.3625483171613" y1="459" x2="305.3625483171613" y2="461.3" stroke="#444" stroke-width="0.8" />
<line x1="306.9" y1="459" x2="306.9" y2="463.2" stroke="#333" stroke-width="1.1" />
<line x1="317.01460785430976" y1="459" x2="317.01460785430976" y2="461.3" stroke="#444" stroke-width="0.8" />
<line x1="322.93127415858066" y1="459" x2="322.93127415858066" y2="461.3" stroke="#444" stroke-width="0.8" />
<line x1="327.12921570861954" y1="459" x2="327.12921570861954" y2="461.3" stroke="#444" stroke-width="0.8" />
<line x1="330.3853921456902" y1="459" x2="330.3853921456902" y2="461.3" stroke="#444" stroke-width="0.8" />
<line x1="333.04588201289044" y1="459" x2="333.04588201289044" y2="461.3" stroke="#444" stroke-width="0.8" />
<line x1="335.29529414447904" y1="459" x2="335.29529414447904" y2="461.3" stroke="#444" stroke-width="0.8" />
<line x1="337.2438235629293" y1="459" x2="337.2438235629293" y2="461.3" stroke="#444" stroke-width="0.8" />
<line x1="338.96254831716135" y1="459" x2="338.96254831716135" y2="461.3" stroke="#444" stroke-width="0.8" />
<line x1="340.5" y1="459" x2="340.5" y2="463.2" stroke="#333" stroke-width="1.1" />
<line x1="350.6146078543098" y1="459" x2="350.6146078543098" y2="461.3" stroke="#444" stroke-width="0.8" />
<line x1="356.5312741585807" y1="459" x2="356.5312741585807" y2="461.3" stroke="#444" stroke-width="0.8" />
<line x1="360.72921570861956" y1="459" x2="360.72921570861956" y2="461.3" stroke="#444" stroke-width="0.8" />
<line x1="363.98539214569024" y1="459" x2="363.98539214569024" y2="461.3" stroke="#444" stroke-width="0.8" />
<line x1="366.6458820128904" y1="459" x2="366.6458820128904" y2="461.3" stroke="#444" stroke-width="0.8" />
<line x1="368.89529414447907" y1="459" x2="368.89529414447907" y2="461.3" stroke="#444" stroke-width="0.8" />
<line x1="370.8438235629293" y1="459" x2="370.8438235629293" y2="461.3" stroke="#444" stroke-width="0.8" />
<line x1="372.5625483171613" y1="459" x2="372.5625483171613" y2="461.3" stroke="#444" stroke-width="0.8" />
<line x1="374.1" y1="459" x2="374.1" y2="463.2" stroke="#333" stroke-width="1.1" />
<line x1="384.21460785430975" y1="459" x2="384.21460785430975" y2="461.3" stroke="#444" stroke-width="0.8" />
<text transform="translate(241.29999999999998,477) scale(0.82,1)" font-size="9.4" text-anchor="end" stroke="#231f20" stroke-width="0.22">10</text>
<text transform="translate(241.89999999999998,472.6) scale(0.9,1)" font-size="5.8" stroke="#231f20" stroke-width="0.22">1</text>
<text transform="translate(274.90000000000003,477) scale(0.82,1)" font-size="9.4" text-anchor="end" stroke="#231f20" stroke-width="0.22">10</text>
<text transform="translate(275.5,472.6) scale(0.9,1)" font-size="5.8" stroke="#231f20" stroke-width="0.22">2</text>
<text transform="translate(308.5,477) scale(0.82,1)" font-size="9.4" text-anchor="end" stroke="#231f20" stroke-width="0.22">10</text>
<text transform="translate(309.09999999999997,472.6) scale(0.9,1)" font-size="5.8" stroke="#231f20" stroke-width="0.22">3</text>
<text transform="translate(342.1,477) scale(0.82,1)" font-size="9.4" text-anchor="end" stroke="#231f20" stroke-width="0.22">10</text>
<text transform="translate(342.7,472.6) scale(0.9,1)" font-size="5.8" stroke="#231f20" stroke-width="0.22">4</text>
<text transform="translate(375.70000000000005,477) scale(0.82,1)" font-size="9.4" text-anchor="end" stroke="#231f20" stroke-width="0.22">10</text>
<text transform="translate(376.3,472.6) scale(0.9,1)" font-size="5.8" stroke="#231f20" stroke-width="0.22">5</text>
<text transform="translate(305.0,492.7) scale(1.03,1)" font-size="10.0" text-anchor="middle" stroke="#231f20" stroke-width="0.22" textLength="52.72" lengthAdjust="spacingAndGlyphs">10E4 (FITC)</text>
<text transform="translate(61,289.5) scale(1.03,1)" font-size="10.0" stroke="#231f20" stroke-width="0.22" textLength="83.50" lengthAdjust="spacingAndGlyphs">H1299 (PAPSS2<tspan font-size="6" dy="-4.2">+/+</tspan><tspan dy="4.2">)</tspan></text>
<text transform="translate(263.8,289.5) scale(1.03,1)" font-size="10.0" stroke="#231f20" stroke-width="0.22" textLength="80.10" lengthAdjust="spacingAndGlyphs">H1299 (PAPSS2<tspan font-size="6" dy="-4.2">+/+</tspan></text>
<text transform="translate(24.9,310.8) scale(1.03,1)" font-size="10.0" stroke="#231f20" stroke-width="0.22">NT</text>
<text transform="translate(24.9,379.8) scale(1.03,1)" font-size="10.0" stroke="#231f20" stroke-width="0.22">PAPSS1</text>
<text transform="translate(24.9,412.1) scale(1.03,1)" font-size="10.0" stroke="#231f20" stroke-width="0.22">PAPSS2</text>
<text transform="translate(24.9,447.3) scale(1.03,1)" font-size="10.0" stroke="#231f20" stroke-width="0.22">PAPSS1/2</text>
<text transform="translate(181.3,355.9) scale(1.03,1)" font-size="10.0" text-anchor="end" stroke="#231f20" stroke-width="0.22">51%</text>
<text transform="translate(181.3,390.2) scale(1.03,1)" font-size="10.0" text-anchor="end" stroke="#231f20" stroke-width="0.22">52%</text>
<text transform="translate(181.3,424) scale(1.03,1)" font-size="10.0" text-anchor="end" stroke="#231f20" stroke-width="0.22">43%</text>
<text transform="translate(181.3,454.8) scale(1.03,1)" font-size="10.0" text-anchor="end" stroke="#231f20" stroke-width="0.22">0.7%</text>
<text transform="translate(225.8,311) scale(1.03,1)" font-size="10.0" stroke="#231f20" stroke-width="0.22">NT</text>
<text transform="translate(225.8,379.8) scale(1.03,1)" font-size="10.0" stroke="#231f20" stroke-width="0.22">NT + HepIII*</text>
<text transform="translate(225.8,412.7) scale(1.03,1)" font-size="10.0" stroke="#231f20" stroke-width="0.22">PAPSS1</text>
<text transform="translate(225.8,445.5) scale(1.03,1)" font-size="10.0" stroke="#231f20" stroke-width="0.22">PAPSS1 + HepIII*</text>
<text transform="translate(384.2,356.2) scale(1.03,1)" font-size="10.0" text-anchor="end" stroke="#231f20" stroke-width="0.22">51%</text>
<text transform="translate(384.2,389.8) scale(1.03,1)" font-size="10.0" text-anchor="end" stroke="#231f20" stroke-width="0.22">0.8%</text>
<text transform="translate(384.2,423.2) scale(1.03,1)" font-size="10.0" text-anchor="end" stroke="#231f20" stroke-width="0.22">1.7%</text>
<text transform="translate(384.2,455.5) scale(1.03,1)" font-size="10.0" text-anchor="end" stroke="#231f20" stroke-width="0.22">0.7%</text>
<text transform="translate(590.8,280.2) scale(1.03,1)" font-size="10.0" text-anchor="middle" stroke="#231f20" stroke-width="0.22" textLength="34.47" lengthAdjust="spacingAndGlyphs">UMUC3</text>
<line x1="517.6" y1="287.9" x2="517.6" y2="435.7" stroke="#9a9a9a" stroke-width="1.4" />
<line x1="516.9" y1="435" x2="663.8" y2="435" stroke="#9a9a9a" stroke-width="1.4" />
<line x1="512.7" y1="287.9" x2="517.6" y2="287.9" stroke="#777" stroke-width="1" />
<text transform="translate(508.2,291.5) scale(1.03,1)" font-size="10.0" text-anchor="end" stroke="#231f20" stroke-width="0.22">1.5</text>
<line x1="512.7" y1="337" x2="517.6" y2="337" stroke="#777" stroke-width="1" />
<text transform="translate(508.2,340.6) scale(1.03,1)" font-size="10.0" text-anchor="end" stroke="#231f20" stroke-width="0.22">1.0</text>
<line x1="512.7" y1="386.1" x2="517.6" y2="386.1" stroke="#777" stroke-width="1" />
<text transform="translate(508.2,389.70000000000005) scale(1.03,1)" font-size="10.0" text-anchor="end" stroke="#231f20" stroke-width="0.22">0.5</text>
<line x1="512.7" y1="435" x2="517.6" y2="435" stroke="#777" stroke-width="1" />
<text transform="translate(508.2,438.6) scale(1.03,1)" font-size="10.0" text-anchor="end" stroke="#231f20" stroke-width="0.22">0</text>
<text transform="translate(472,361.6) rotate(-90) scale(1.03,1)" font-size="10.0" text-anchor="middle" stroke="#231f20" stroke-width="0.22">Spheroid size,</text>
<text transform="translate(484,361.6) rotate(-90) scale(1.03,1)" font-size="10.0" text-anchor="middle" stroke="#231f20" stroke-width="0.22" textLength="95.63" lengthAdjust="spacingAndGlyphs">normalized to NTctrl</text>
<line x1="518.5" y1="337" x2="663.8" y2="337" stroke="#222" stroke-width="1.8" stroke-dasharray="1.8 3.1"/>
<rect x="525.3" y="334.9" width="10.200000000000045" height="100.10000000000002" fill="#008000" stroke="#000" stroke-width="2" rx="1.5"/>
<rect x="576" y="334.9" width="10" height="100.10000000000002" fill="#008000" stroke="#000" stroke-width="2" rx="1.5"/>
<rect x="626.8" y="334.9" width="9.900000000000091" height="100.10000000000002" fill="#008000" stroke="#000" stroke-width="2" rx="1.5"/>
<rect x="543.4" y="388" width="11.899999999999977" height="47" fill="#c8c000" stroke="#a8a000" stroke-width="1"/>
<rect x="594.5" y="370.7" width="11.200000000000045" height="64.30000000000001" fill="#c8c000" stroke="#a8a000" stroke-width="1"/>
<rect x="645.1" y="352.3" width="11.299999999999955" height="82.69999999999999" fill="#c8c000" stroke="#a8a000" stroke-width="1"/>
<line x1="549.1" y1="372" x2="549.1" y2="404" stroke="#a8a000" stroke-width="1" />
<line x1="600.1" y1="366" x2="600.1" y2="376" stroke="#a8a000" stroke-width="1" />
<line x1="650.4" y1="337.1" x2="650.4" y2="366" stroke="#a8a000" stroke-width="1" />
<circle cx="526.7" cy="337" r="3" fill="#00d000" stroke="#000" stroke-width="1.5"/>
<circle cx="533.7" cy="337" r="3" fill="#00d000" stroke="#000" stroke-width="1.5"/>
<circle cx="577.3" cy="337" r="3" fill="#00d000" stroke="#000" stroke-width="1.5"/>
<circle cx="583.8" cy="337" r="3" fill="#00d000" stroke="#000" stroke-width="1.5"/>
<circle cx="628.1" cy="337" r="3" fill="#00d000" stroke="#000" stroke-width="1.5"/>
<circle cx="634.6" cy="337" r="3" fill="#00d000" stroke="#000" stroke-width="1.5"/>
<circle cx="545.4" cy="378.6" r="3" fill="#d0c800" stroke="#000" stroke-width="1.5"/>
<circle cx="552.1" cy="373.7" r="3" fill="#d0c800" stroke="#000" stroke-width="1.5"/>
<circle cx="549.1" cy="391.5" r="3" fill="#d0c800" stroke="#000" stroke-width="1.5"/>
<circle cx="549.1" cy="407.2" r="3" fill="#d0c800" stroke="#000" stroke-width="1.5"/>
<circle cx="596.4" cy="373.4" r="3" fill="#d0c800" stroke="#000" stroke-width="1.5"/>
<circle cx="600.1" cy="368.6" r="3" fill="#d0c800" stroke="#000" stroke-width="1.5"/>
<circle cx="603.4" cy="370.2" r="3" fill="#d0c800" stroke="#000" stroke-width="1.5"/>
<circle cx="650.4" cy="337.1" r="3" fill="#d0c800" stroke="#000" stroke-width="1.5"/>
<circle cx="653.9" cy="356.4" r="3" fill="#d0c800" stroke="#000" stroke-width="1.5"/>
<circle cx="647.2" cy="361.6" r="3" fill="#d0c800" stroke="#000" stroke-width="1.5"/>
<polyline points="547.00,363.60 547.00,302.40 651.60,302.40 651.60,331.30" fill="none" stroke="#777" stroke-width="1" />
<polyline points="552.30,359.30 552.30,323.40 598.30,323.40 598.30,351.00" fill="none" stroke="#777" stroke-width="1" />
<polyline points="602.20,359.30 602.20,322.20 646.30,322.20 646.30,327.80" fill="none" stroke="#777" stroke-width="1" />
<path d="M600.10,295.40L600.10,293.10M600.10,295.40L602.29,294.69M600.10,295.40L601.45,297.26M600.10,295.40L598.75,297.26M600.10,295.40L597.91,294.69" stroke="#231f20" stroke-width="1.2" stroke-linecap="round" fill="none"/>
<text transform="translate(575.5,317.3) scale(1.03,1)" font-size="10.0" text-anchor="middle" stroke="#231f20" stroke-width="0.22" textLength="12.82" lengthAdjust="spacingAndGlyphs">NS</text>
<text transform="translate(624.6,317.3) scale(1.03,1)" font-size="10.0" text-anchor="middle" stroke="#231f20" stroke-width="0.22" textLength="12.82" lengthAdjust="spacingAndGlyphs">NS</text>
<line x1="540.2" y1="435" x2="540.2" y2="440" stroke="#777" stroke-width="1" />
<line x1="590.6" y1="435" x2="590.6" y2="440" stroke="#777" stroke-width="1" />
<line x1="641" y1="435" x2="641" y2="440" stroke="#777" stroke-width="1" />
<text transform="translate(544.6,451.8) rotate(-45) scale(1.03,1)" font-size="10.0" text-anchor="end" stroke="#231f20" stroke-width="0.22">Ctrl</text>
<text transform="translate(595.5,447.5) rotate(-45) scale(1.09,1)" font-size="10.0" text-anchor="end" stroke="#231f20" stroke-width="0.22">HS 10 µg ml<tspan font-size="6" dy="-3.5">−1</tspan></text>
<text transform="translate(645.9,447.5) rotate(-45) scale(1.09,1)" font-size="10.0" text-anchor="end" stroke="#231f20" stroke-width="0.22">HS 50 µg ml<tspan font-size="6" dy="-3.5">−1</tspan></text>
<line x1="57" y1="529.1" x2="57" y2="695.4" stroke="#9a9a9a" stroke-width="1.4" />
<line x1="56.3" y1="694.7" x2="307.3" y2="694.7" stroke="#9a9a9a" stroke-width="1.4" />
<line x1="51.6" y1="529.1" x2="57" y2="529.1" stroke="#777" stroke-width="1" />
<text transform="translate(46.6,532.4) scale(0.93,1)" font-size="9.7" text-anchor="end" stroke="#231f20" stroke-width="0.22">1,500</text>
<line x1="51.6" y1="583.8" x2="57" y2="583.8" stroke="#777" stroke-width="1" />
<text transform="translate(46.6,587.0999999999999) scale(0.93,1)" font-size="9.7" text-anchor="end" stroke="#231f20" stroke-width="0.22">1,000</text>
<line x1="51.6" y1="639.2" x2="57" y2="639.2" stroke="#777" stroke-width="1" />
<text transform="translate(46.6,642.5) scale(0.93,1)" font-size="9.7" text-anchor="end" stroke="#231f20" stroke-width="0.22">500</text>
<line x1="51.6" y1="694.7" x2="57" y2="694.7" stroke="#777" stroke-width="1" />
<text transform="translate(46.6,698.0) scale(0.93,1)" font-size="9.7" text-anchor="end" stroke="#231f20" stroke-width="0.22">0</text>
<text transform="translate(13.3,612.3) rotate(-90) scale(1.03,1)" font-size="10.0" text-anchor="middle" stroke="#231f20" stroke-width="0.22" textLength="80.58" lengthAdjust="spacingAndGlyphs">Tumor size (mm<tspan font-size="6" dy="-4">3</tspan><tspan dy="4">)</tspan></text>
<line x1="70.4" y1="694.7" x2="70.4" y2="699.4" stroke="#777" stroke-width="1" />
<text transform="translate(70.4,711.4) scale(1.03,1)" font-size="9.6" text-anchor="middle" stroke="#231f20" stroke-width="0.22">0</text>
<line x1="102.0" y1="694.7" x2="102.0" y2="699.4" stroke="#777" stroke-width="1" />
<text transform="translate(102.0,711.4) scale(1.03,1)" font-size="9.6" text-anchor="middle" stroke="#231f20" stroke-width="0.22">1</text>
<line x1="133.60000000000002" y1="694.7" x2="133.60000000000002" y2="699.4" stroke="#777" stroke-width="1" />
<text transform="translate(133.60000000000002,711.4) scale(1.03,1)" font-size="9.6" text-anchor="middle" stroke="#231f20" stroke-width="0.22">5</text>
<line x1="165.20000000000002" y1="694.7" x2="165.20000000000002" y2="699.4" stroke="#777" stroke-width="1" />
<text transform="translate(165.20000000000002,711.4) scale(1.03,1)" font-size="9.6" text-anchor="middle" stroke="#231f20" stroke-width="0.22">8</text>
<line x1="196.8" y1="694.7" x2="196.8" y2="699.4" stroke="#777" stroke-width="1" />
<text transform="translate(196.8,711.4) scale(1.03,1)" font-size="9.6" text-anchor="middle" stroke="#231f20" stroke-width="0.22">12</text>
<line x1="228.4" y1="694.7" x2="228.4" y2="699.4" stroke="#777" stroke-width="1" />
<text transform="translate(228.4,711.4) scale(1.03,1)" font-size="9.6" text-anchor="middle" stroke="#231f20" stroke-width="0.22">15</text>
<line x1="260.0" y1="694.7" x2="260.0" y2="699.4" stroke="#777" stroke-width="1" />
<text transform="translate(260.0,711.4) scale(1.03,1)" font-size="9.6" text-anchor="middle" stroke="#231f20" stroke-width="0.22">19</text>
<line x1="291.6" y1="694.7" x2="291.6" y2="699.4" stroke="#777" stroke-width="1" />
<text transform="translate(291.6,711.4) scale(1.03,1)" font-size="9.6" text-anchor="middle" stroke="#231f20" stroke-width="0.22">22</text>
<text transform="translate(182.2,726.5) scale(1.03,1)" font-size="10.0" text-anchor="middle" stroke="#231f20" stroke-width="0.22" textLength="108.54" lengthAdjust="spacingAndGlyphs">Days after implantation</text>
<circle cx="87.2" cy="541.5" r="3.9" fill="#12b812" stroke="#0a5a0a" stroke-width="1.6"/>
<circle cx="87.2" cy="557.6" r="3.9" fill="#ffff00" stroke="#868600" stroke-width="1.6"/>
<text transform="translate(97.5,544.9) scale(1.03,1)" font-size="10.0" stroke="#231f20" stroke-width="0.22" textLength="50.78" lengthAdjust="spacingAndGlyphs">UMUC3 NT</text>
<text transform="translate(97.5,561.4) scale(1.03,1)" font-size="10.0" stroke="#231f20" stroke-width="0.22" textLength="89.90" lengthAdjust="spacingAndGlyphs">UMUC3 <tspan font-style="italic">PAPSS1</tspan>-KO</text>
<circle cx="64.5" cy="694.7" r="3.75" fill="#12b812" stroke="#0a5a0a" stroke-width="1.7"/>
<circle cx="96.1" cy="694.7" r="3.75" fill="#12b812" stroke="#0a5a0a" stroke-width="1.7"/>
<circle cx="127.6" cy="692.4" r="3.75" fill="#12b812" stroke="#0a5a0a" stroke-width="1.7"/>
<circle cx="127.6" cy="690.1" r="3.75" fill="#12b812" stroke="#0a5a0a" stroke-width="1.7"/>
<circle cx="160.3" cy="690.1" r="3.75" fill="#12b812" stroke="#0a5a0a" stroke-width="1.7"/>
<circle cx="158.7" cy="686.6" r="3.75" fill="#12b812" stroke="#0a5a0a" stroke-width="1.7"/>
<circle cx="191.7" cy="686.1" r="3.75" fill="#12b812" stroke="#0a5a0a" stroke-width="1.7"/>
<circle cx="190.5" cy="685" r="3.75" fill="#12b812" stroke="#0a5a0a" stroke-width="1.7"/>
<circle cx="222.7" cy="676.8" r="3.75" fill="#12b812" stroke="#0a5a0a" stroke-width="1.7"/>
<circle cx="222" cy="674.5" r="3.75" fill="#12b812" stroke="#0a5a0a" stroke-width="1.7"/>
<circle cx="222" cy="669.8" r="3.75" fill="#12b812" stroke="#0a5a0a" stroke-width="1.7"/>
<circle cx="222" cy="665.1" r="3.75" fill="#12b812" stroke="#0a5a0a" stroke-width="1.7"/>
<circle cx="253.6" cy="650" r="3.75" fill="#12b812" stroke="#0a5a0a" stroke-width="1.7"/>
<circle cx="254.7" cy="646.9" r="3.75" fill="#12b812" stroke="#0a5a0a" stroke-width="1.7"/>
<circle cx="254.7" cy="641.3" r="3.75" fill="#12b812" stroke="#0a5a0a" stroke-width="1.7"/>
<circle cx="254" cy="638.3" r="3.75" fill="#12b812" stroke="#0a5a0a" stroke-width="1.7"/>
<circle cx="286.3" cy="615.4" r="3.75" fill="#12b812" stroke="#0a5a0a" stroke-width="1.7"/>
<circle cx="286.3" cy="603.2" r="3.75" fill="#12b812" stroke="#0a5a0a" stroke-width="1.7"/>
<circle cx="285.6" cy="599.7" r="3.75" fill="#12b812" stroke="#0a5a0a" stroke-width="1.7"/>
<circle cx="287" cy="597.4" r="3.75" fill="#12b812" stroke="#0a5a0a" stroke-width="1.7"/>
<circle cx="286.3" cy="575.7" r="3.75" fill="#12b812" stroke="#0a5a0a" stroke-width="1.7"/>
<circle cx="76.2" cy="694.7" r="3.75" fill="#ffff00" stroke="#868600" stroke-width="1.7"/>
<circle cx="108.4" cy="694.7" r="3.75" fill="#ffff00" stroke="#868600" stroke-width="1.7"/>
<circle cx="139.3" cy="692.4" r="3.75" fill="#ffff00" stroke="#868600" stroke-width="1.7"/>
<circle cx="139.3" cy="690.1" r="3.75" fill="#ffff00" stroke="#868600" stroke-width="1.7"/>
<circle cx="170.8" cy="691.7" r="3.75" fill="#ffff00" stroke="#868600" stroke-width="1.7"/>
<circle cx="171.5" cy="690.1" r="3.75" fill="#ffff00" stroke="#868600" stroke-width="1.7"/>
<circle cx="203.8" cy="687.3" r="3.75" fill="#ffff00" stroke="#868600" stroke-width="1.7"/>
<circle cx="202.7" cy="684.5" r="3.75" fill="#ffff00" stroke="#868600" stroke-width="1.7"/>
<circle cx="235.4" cy="685" r="3.75" fill="#ffff00" stroke="#868600" stroke-width="1.7"/>
<circle cx="234.2" cy="681" r="3.75" fill="#ffff00" stroke="#868600" stroke-width="1.7"/>
<circle cx="266.4" cy="674" r="3.75" fill="#ffff00" stroke="#868600" stroke-width="1.7"/>
<circle cx="266.4" cy="664" r="3.75" fill="#ffff00" stroke="#868600" stroke-width="1.7"/>
<circle cx="297.5" cy="660.4" r="3.75" fill="#ffff00" stroke="#868600" stroke-width="1.7"/>
<circle cx="298.7" cy="657.6" r="3.75" fill="#ffff00" stroke="#868600" stroke-width="1.7"/>
<circle cx="298.7" cy="654.6" r="3.75" fill="#ffff00" stroke="#868600" stroke-width="1.7"/>
<circle cx="298" cy="648.8" r="3.75" fill="#ffff00" stroke="#868600" stroke-width="1.7"/>
<circle cx="298" cy="638.3" r="3.75" fill="#ffff00" stroke="#868600" stroke-width="1.7"/>
<line x1="262" y1="667.9" x2="270" y2="667.9" stroke="#333" stroke-width="1" />
<line x1="294" y1="652" x2="302" y2="652" stroke="#333" stroke-width="1" />
<polyline points="309.60,595.50 318.50,595.50 318.50,648.50 309.60,648.50" fill="none" stroke="#808080" stroke-width="1" />
<path d="M324.20,616.60L326.60,616.60M324.20,616.60L324.94,618.88M324.20,616.60L322.26,618.01M324.20,616.60L322.26,615.19M324.20,616.60L324.94,614.32" stroke="#231f20" stroke-width="1.25" stroke-linecap="round" fill="none"/>
<path d="M324.20,622.00L326.60,622.00M324.20,622.00L324.94,624.28M324.20,622.00L322.26,623.41M324.20,622.00L322.26,620.59M324.20,622.00L324.94,619.72" stroke="#231f20" stroke-width="1.25" stroke-linecap="round" fill="none"/>
<path d="M324.20,627.40L326.60,627.40M324.20,627.40L324.94,629.68M324.20,627.40L322.26,628.81M324.20,627.40L322.26,625.99M324.20,627.40L324.94,625.12" stroke="#231f20" stroke-width="1.25" stroke-linecap="round" fill="none"/>
<line x1="388.8" y1="524" x2="684.5" y2="524" stroke="#b8b8b8" stroke-width="1.8" />
<line x1="388.2" y1="705.7" x2="684.5" y2="705.7" stroke="#a8a8a8" stroke-width="1.8" />
<line x1="388.8" y1="523.2" x2="388.8" y2="706.5" stroke="#5a5a5a" stroke-width="1.3" />
<line x1="684.3" y1="523.2" x2="684.3" y2="706.5" stroke="#666" stroke-width="1.3" />
<line x1="384" y1="530.6" x2="388.8" y2="530.6" stroke="#777" stroke-width="1" />
<text transform="translate(379.9,534.2) scale(1.03,1)" font-size="10.0" text-anchor="end" stroke="#231f20" stroke-width="0.22">1.0</text>
<line x1="384" y1="564.34" x2="388.8" y2="564.34" stroke="#777" stroke-width="1" />
<text transform="translate(379.9,567.94) scale(1.03,1)" font-size="10.0" text-anchor="end" stroke="#231f20" stroke-width="0.22">0.8</text>
<line x1="384" y1="598.08" x2="388.8" y2="598.08" stroke="#777" stroke-width="1" />
<text transform="translate(379.9,601.6800000000001) scale(1.03,1)" font-size="10.0" text-anchor="end" stroke="#231f20" stroke-width="0.22">0.6</text>
<line x1="384" y1="631.82" x2="388.8" y2="631.82" stroke="#777" stroke-width="1" />
<text transform="translate(379.9,635.4200000000001) scale(1.03,1)" font-size="10.0" text-anchor="end" stroke="#231f20" stroke-width="0.22">0.4</text>
<line x1="384" y1="665.5600000000001" x2="388.8" y2="665.5600000000001" stroke="#777" stroke-width="1" />
<text transform="translate(379.9,669.1600000000001) scale(1.03,1)" font-size="10.0" text-anchor="end" stroke="#231f20" stroke-width="0.22">0.2</text>
<line x1="384" y1="699.3000000000001" x2="388.8" y2="699.3000000000001" stroke="#777" stroke-width="1" />
<text transform="translate(379.9,702.9000000000001) scale(1.03,1)" font-size="10.0" text-anchor="end" stroke="#231f20" stroke-width="0.22">0</text>
<line x1="399.2" y1="705.6" x2="399.2" y2="712.3" stroke="#777" stroke-width="1" />
<text transform="translate(399.2,722.2) scale(1.03,1)" font-size="10.0" text-anchor="middle" stroke="#231f20" stroke-width="0.22">0</text>
<line x1="448.09999999999997" y1="705.6" x2="448.09999999999997" y2="712.3" stroke="#777" stroke-width="1" />
<text transform="translate(448.09999999999997,722.2) scale(1.03,1)" font-size="10.0" text-anchor="middle" stroke="#231f20" stroke-width="0.22">2,000</text>
<line x1="497.0" y1="705.6" x2="497.0" y2="712.3" stroke="#777" stroke-width="1" />
<text transform="translate(497.0,722.2) scale(1.03,1)" font-size="10.0" text-anchor="middle" stroke="#231f20" stroke-width="0.22">4,000</text>
<line x1="545.9" y1="705.6" x2="545.9" y2="712.3" stroke="#777" stroke-width="1" />
<text transform="translate(545.9,722.2) scale(1.03,1)" font-size="10.0" text-anchor="middle" stroke="#231f20" stroke-width="0.22">6,000</text>
<line x1="594.8" y1="705.6" x2="594.8" y2="712.3" stroke="#777" stroke-width="1" />
<text transform="translate(594.8,722.2) scale(1.03,1)" font-size="10.0" text-anchor="middle" stroke="#231f20" stroke-width="0.22">8,000</text>
<line x1="643.7" y1="705.6" x2="643.7" y2="712.3" stroke="#777" stroke-width="1" />
<text transform="translate(643.7,722.2) scale(1.03,1)" font-size="10.0" text-anchor="middle" stroke="#231f20" stroke-width="0.22">10,000</text>
<text transform="translate(536.7,738.8) scale(1.03,1)" font-size="10.0" text-anchor="middle" stroke="#231f20" stroke-width="0.22" textLength="21.17" lengthAdjust="spacingAndGlyphs">Days</text>
<text transform="translate(354.4,614.8) rotate(-90) scale(1.03,1)" font-size="10.0" text-anchor="middle" stroke="#231f20" stroke-width="0.22" textLength="90.49" lengthAdjust="spacingAndGlyphs">Survival probability</text>
<line x1="477" y1="542.1" x2="503.4" y2="542.1" stroke="#222" stroke-width="2.2" stroke-dasharray="5.3 5.2"/>
<text transform="translate(511.2,546) scale(1.03,1)" font-size="10.0" stroke="#231f20" stroke-width="0.22" textLength="120.68" lengthAdjust="spacingAndGlyphs">No predicted PAPSS1/2 SL</text>
<line x1="477" y1="558.6" x2="504" y2="558.6" stroke="#ff3030" stroke-width="1.4" stroke-dasharray="1.3 4"/>
<text transform="translate(511.2,562.3) scale(1.03,1)" font-size="10.0" stroke="#231f20" stroke-width="0.22" textLength="105.34" lengthAdjust="spacingAndGlyphs">Predicted PAPSS1/2 SL</text>
<text transform="translate(511.2,574.9) scale(1.03,1)" font-size="10.0" stroke="#231f20" stroke-width="0.22" textLength="113.59" lengthAdjust="spacingAndGlyphs">HR = 0.61, FDR = 0.0004</text>
<polyline points="399.00,530.40 399.97,531.73 401.36,533.61 402.92,535.91 404.40,538.50 405.75,541.50 407.10,544.91 408.45,548.50 409.80,552.00 411.05,555.38 412.24,558.75 413.56,562.12 415.20,565.50 417.29,568.88 419.70,572.25 422.24,575.62 424.70,579.00 427.05,582.47 429.40,586.01 431.75,589.41 434.10,592.50 436.44,595.17 438.76,597.54 441.13,599.74 443.60,601.90 446.21,604.00 448.92,606.00 451.67,607.97 454.40,610.00 457.10,612.17 459.80,614.41 462.50,616.59 465.20,618.60 467.84,620.33 470.44,621.88 473.12,623.39 476.00,625.00 479.19,626.82 482.61,628.74 486.05,630.62 489.30,632.30" fill="none" stroke="#000" stroke-width="4.6" stroke-linecap="round" stroke-linejoin="round"/>
<polyline points="489.30,632.30 492.24,633.68 495.01,634.87 497.78,636.02 500.70,637.30 503.79,638.74 506.96,640.25 510.27,641.84 513.80,643.50 517.62,645.42 521.67,647.54 525.81,649.49 529.90,650.90" fill="none" stroke="#000" stroke-width="3.6" stroke-linecap="round" stroke-linejoin="round"/>
<polyline points="534.04,651.53 538.27,651.62 542.31,651.53 545.90,651.60 548.93,651.82 551.54,652.03 553.89,652.40 556.10,653.10 558.10,654.27 559.86,655.79 561.57,657.41 563.40,658.90 565.62,660.30 568.06,661.71 570.26,662.94 571.80,663.80" fill="none" stroke="#000" stroke-width="1.4" />
<path d="M497.4,636.993563034188H502.6M500,634.393563034188V639.593563034188" stroke="#000" stroke-width="1.3"/>
<path d="M502.4,639.3169376693767H507.6M505,636.7169376693766V641.9169376693767" stroke="#000" stroke-width="1.3"/>
<path d="M507.4,641.706298563692H512.6M510,639.106298563692V644.306298563692" stroke="#000" stroke-width="1.3"/>
<path d="M512.4,644.1045445240533H517.6M515,641.5045445240532V646.7045445240533" stroke="#000" stroke-width="1.3"/>
<path d="M515.4,645.6234384037017H520.6M518,643.0234384037017V648.2234384037017" stroke="#000" stroke-width="1.3"/>
<path d="M519.4,647.6995992834244H524.6M522,645.0995992834244V650.2995992834244" stroke="#000" stroke-width="1.3"/>
<path d="M523.4,649.5577680107014H528.6M526,646.9577680107013V652.1577680107014" stroke="#000" stroke-width="1.3"/>
<path d="M527.4,650.9151423722421H532.6M530,648.3151423722421V653.5151423722422" stroke="#000" stroke-width="1.3"/>
<path d="M533.4,651.5696755407654H538.6M536,648.9696755407654V654.1696755407654" stroke="#000" stroke-width="1.3"/>
<path d="M537.4,651.5789242219215H542.6M540,648.9789242219215V654.1789242219215" stroke="#000" stroke-width="1.3"/>
<path d="M541.6,651.564853101197H546.8000000000001M544.2,648.9648531011969V654.164853101197" stroke="#000" stroke-width="1.3"/>
<path d="M544.4,651.6792408985283H549.6M547,649.0792408985283V654.2792408985283" stroke="#000" stroke-width="1.3"/>
<path d="M546.9,651.8647493285587H552.1M549.5,649.2647493285587V654.4647493285587" stroke="#000" stroke-width="1.3"/>
<path d="M549.4,652.1037212787214H554.6M552,649.5037212787214V654.7037212787214" stroke="#000" stroke-width="1.3"/>
<path d="M552.4,652.7535524920468H557.6M555,650.1535524920467V655.3535524920468" stroke="#000" stroke-width="1.3"/>
<path d="M559.6,657.9269165247019H564.8000000000001M562.2,655.3269165247019V660.526916524702" stroke="#000" stroke-width="1.3"/>
<path d="M569.1999999999999,663.8H574.4M571.8,661.1999999999999V666.4" stroke="#000" stroke-width="1.3"/>
<path d="M575.1,663.8H580.3000000000001M577.7,661.1999999999999V666.4" stroke="#000" stroke-width="1.3"/>
<path d="M577.1999999999999,663.8H582.4M579.8,661.1999999999999V666.4" stroke="#000" stroke-width="1.3"/>
<polyline points="571.80,663.80 582.30,663.80 583.40,668.30 599.30,668.30 599.30,670.80 619.40,670.80 619.40,675.50 651.80,675.50 651.80,681.40 664.50,681.40 664.50,687.70 673.80,687.70" fill="none" stroke="#333" stroke-width="1" stroke-dasharray="2 1.5"/>
<path d="M581.9,668.3H587.1M584.5,665.6999999999999V670.9" stroke="#000" stroke-width="1.1"/>
<path d="M587.1,668.3H592.3000000000001M589.7,665.6999999999999V670.9" stroke="#000" stroke-width="1.1"/>
<path d="M592.4,668.3H597.6M595,665.6999999999999V670.9" stroke="#000" stroke-width="1.1"/>
<path d="M600.9,670.8H606.1M603.5,668.1999999999999V673.4" stroke="#000" stroke-width="1.1"/>
<path d="M606.1999999999999,670.8H611.4M608.8,668.1999999999999V673.4" stroke="#000" stroke-width="1.1"/>
<path d="M621.0,675.5H626.2M623.6,672.9V678.1" stroke="#000" stroke-width="1.1"/>
<path d="M631.6,675.5H636.8000000000001M634.2,672.9V678.1" stroke="#000" stroke-width="1.1"/>
<path d="M671.1999999999999,687.7H676.4M673.8,685.1V690.3000000000001" stroke="#000" stroke-width="1.1"/>
<polyline points="439.90,657.80 447.00,680.10" fill="none" stroke="#ff5050" stroke-width="0.8" stroke-dasharray="1 1"/>
<polyline points="399.70,530.90 403.80,541.20 405.80,557.40 407.40,565.50 408.20,576.30 409.80,585.70 411.50,599.90 412.30,606.00 413.90,613.40 415.90,622.80 419.40,634.20 423.40,642.00 430.00,649.10 433.30,649.10 436.50,652.50 439.90,657.80" fill="none" stroke="#ff4040" stroke-width="0.8" />
<path d="M396.9,530.9H402.5M399.7,528.1V533.6999999999999" stroke="#ff2020" stroke-width="1"/>
<path d="M398.2,532H403.8M401,529.2V534.8" stroke="#ff2020" stroke-width="1"/>
<path d="M399.7,535H405.3M402.5,532.2V537.8" stroke="#ff2020" stroke-width="1"/>
<path d="M401.0,541.2H406.6M403.8,538.4000000000001V544.0" stroke="#ff2020" stroke-width="1"/>
<path d="M401.2,547.3H406.8M404,544.5V550.0999999999999" stroke="#ff2020" stroke-width="1"/>
<path d="M403.0,557.4H408.6M405.8,554.6V560.1999999999999" stroke="#ff2020" stroke-width="1"/>
<path d="M404.59999999999997,565.5H410.2M407.4,562.7V568.3" stroke="#ff2020" stroke-width="1"/>
<path d="M405.4,576.3H411.0M408.2,573.5V579.0999999999999" stroke="#ff2020" stroke-width="1"/>
<path d="M406.5,581H412.1M409.3,578.2V583.8" stroke="#ff2020" stroke-width="1"/>
<path d="M407.0,585.7H412.6M409.8,582.9000000000001V588.5" stroke="#ff2020" stroke-width="1"/>
<path d="M407.7,589.8H413.3M410.5,587.0V592.5999999999999" stroke="#ff2020" stroke-width="1"/>
<path d="M408.7,599.9H414.3M411.5,597.1V602.6999999999999" stroke="#ff2020" stroke-width="1"/>
<path d="M409.2,603H414.8M412,600.2V605.8" stroke="#ff2020" stroke-width="1"/>
<path d="M409.5,606H415.1M412.3,603.2V608.8" stroke="#ff2020" stroke-width="1"/>
<path d="M411.09999999999997,613.4H416.7M413.9,610.6V616.1999999999999" stroke="#ff2020" stroke-width="1"/>
<path d="M413.09999999999997,622.8H418.7M415.9,620.0V625.5999999999999" stroke="#ff2020" stroke-width="1"/>
<path d="M416.59999999999997,634.2H422.2M419.4,631.4000000000001V637.0" stroke="#ff2020" stroke-width="1"/>
<path d="M419.2,640H424.8M422,637.2V642.8" stroke="#ff2020" stroke-width="1"/>
<path d="M420.59999999999997,642H426.2M423.4,639.2V644.8" stroke="#ff2020" stroke-width="1"/>
<path d="M427.2,649.1H432.8M430,646.3000000000001V651.9" stroke="#ff2020" stroke-width="1"/>
<path d="M430.5,649.1H436.1M433.3,646.3000000000001V651.9" stroke="#ff2020" stroke-width="1"/>
<path d="M432.2,650.5H437.8M435,647.7V653.3" stroke="#ff2020" stroke-width="1"/>
<path d="M433.7,652.5H439.3M436.5,649.7V655.3" stroke="#ff2020" stroke-width="1"/>
<path d="M437.09999999999997,657.8H442.7M439.9,655.0V660.5999999999999" stroke="#ff2020" stroke-width="1"/>
<path d="M444.2,680.1H449.8M447,677.3000000000001V682.9" stroke="#ff2020" stroke-width="1"/>
<path d="M461.3,684.6H466.90000000000003M464.1,681.8000000000001V687.4" stroke="#ff2020" stroke-width="1"/>
<path d="M507.8,689.3H513.4M510.6,686.5V692.0999999999999" stroke="#ff2020" stroke-width="1"/>
<polyline points="447.00,680.10 461.50,680.10 461.50,684.60 481.20,684.60 481.20,689.30 551.30,689.30 551.30,699.30" fill="none" stroke="#ff7070" stroke-width="0.9" stroke-dasharray="1 1.6"/>
</svg></body></html>
